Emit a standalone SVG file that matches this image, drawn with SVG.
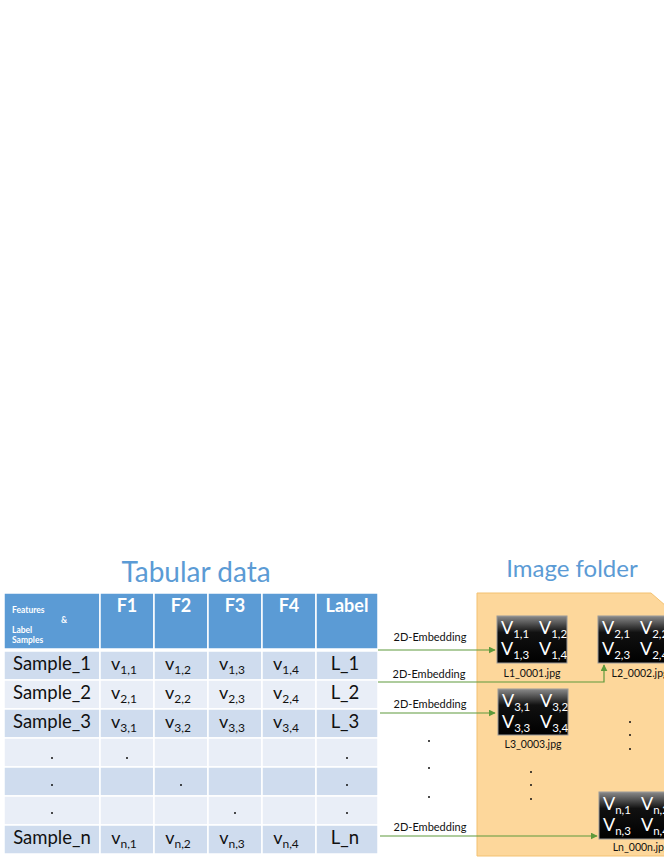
<svg xmlns="http://www.w3.org/2000/svg" width="664" height="860" viewBox="0 0 664 860">
<defs>
<linearGradient id="tile" x1="0" y1="0" x2="0" y2="1">
<stop offset="0" stop-color="#8a8a8a"/>
<stop offset="0.35" stop-color="#111"/>
<stop offset="1" stop-color="#000"/>
</linearGradient>
<marker id="ah" viewBox="0 0 10 10" refX="9" refY="5" markerWidth="7" markerHeight="7" markerUnits="userSpaceOnUse" orient="auto">
<path d="M0,0 L10,5 L0,10 z" fill="#5f9a3c"/>
</marker>
</defs>
<style>
.title{font-family:Lato,"Liberation Sans",sans-serif;fill:#5b9bd5;text-anchor:middle}
.hd{fill:#5b9bd5;stroke:#fff;stroke-width:1.5}
.dk{fill:#cfdcee;stroke:#fff;stroke-width:1.5}
.lt{fill:#e9eef7;stroke:#fff;stroke-width:1.5}
.ht{font-family:Lato,"Liberation Sans",sans-serif;font-weight:bold;fill:#fff;font-size:18px;text-anchor:middle}
.hs{font-family:Lato,"Liberation Sans",sans-serif;font-weight:bold;fill:#fff;font-size:8.5px}
.ct{font-family:Lato,"Liberation Sans",sans-serif;fill:#111;font-size:18.5px;text-anchor:middle}
.cv{font-family:Lato,"Liberation Sans",sans-serif;fill:#111;font-size:18px;text-anchor:middle}
.sub{font-size:12px}
.dot{fill:#111}
.tile{fill:url(#tile);stroke:#9a9a9a;stroke-width:1}
.tv{font-family:Lato,"Liberation Sans",sans-serif;fill:#fff;font-size:18px}
.tsub{font-size:11.5px}
.fn{font-family:Lato,"Liberation Sans",sans-serif;fill:#111;font-size:10.5px;text-anchor:middle}
.emb{font-family:Lato,"Liberation Sans",sans-serif;fill:#111;font-size:11px;text-anchor:middle}
.conn{stroke:#5f9a3c;stroke-width:1.2;fill:none;marker-end:url(#ah)}
</style>

<text class="title" x="196" y="582" font-size="28">Tabular data</text>
<text class="title" x="572" y="577" font-size="24">Image folder</text>

<g id="table">
<rect class="hd" x="4" y="593" width="96" height="56"/>
<rect class="hd" x="100" y="593" width="54" height="56"/>
<rect class="hd" x="154" y="593" width="54" height="56"/>
<rect class="hd" x="208" y="593" width="54" height="56"/>
<rect class="hd" x="262" y="593" width="54" height="56"/>
<rect class="hd" x="316" y="593" width="62" height="56"/>
<text class="hs" x="12" y="613">Features</text>
<text class="hs" x="61" y="623">&amp;</text>
<text class="hs" x="12" y="633">Label</text>
<text class="hs" x="12" y="643">Samples</text>
<text class="ht" x="127" y="612">F1</text>
<text class="ht" x="181" y="612">F2</text>
<text class="ht" x="235" y="612">F3</text>
<text class="ht" x="289" y="612">F4</text>
<text class="ht" x="347" y="612">Label</text>

<g id="row1">
<rect class="dk" x="4" y="651" width="96" height="29"/><rect class="dk" x="100" y="651" width="54" height="29"/><rect class="dk" x="154" y="651" width="54" height="29"/><rect class="dk" x="208" y="651" width="54" height="29"/><rect class="dk" x="262" y="651" width="54" height="29"/><rect class="dk" x="316" y="651" width="62" height="29"/>
<text class="ct" x="52" y="670">Sample_1</text>
<text class="cv" x="124" y="670">v<tspan class="sub" dy="4">1,1</tspan></text>
<text class="cv" x="178" y="670">v<tspan class="sub" dy="4">1,2</tspan></text>
<text class="cv" x="232" y="670">v<tspan class="sub" dy="4">1,3</tspan></text>
<text class="cv" x="286" y="670">v<tspan class="sub" dy="4">1,4</tspan></text>
<text class="ct" x="345" y="670">L_1</text>
</g>
<g id="row2">
<rect class="lt" x="4" y="680" width="96" height="29"/><rect class="lt" x="100" y="680" width="54" height="29"/><rect class="lt" x="154" y="680" width="54" height="29"/><rect class="lt" x="208" y="680" width="54" height="29"/><rect class="lt" x="262" y="680" width="54" height="29"/><rect class="lt" x="316" y="680" width="62" height="29"/>
<text class="ct" x="52" y="699">Sample_2</text>
<text class="cv" x="124" y="699">v<tspan class="sub" dy="4">2,1</tspan></text>
<text class="cv" x="178" y="699">v<tspan class="sub" dy="4">2,2</tspan></text>
<text class="cv" x="232" y="699">v<tspan class="sub" dy="4">2,3</tspan></text>
<text class="cv" x="286" y="699">v<tspan class="sub" dy="4">2,4</tspan></text>
<text class="ct" x="345" y="699">L_2</text>
</g>
<g id="row3">
<rect class="dk" x="4" y="709" width="96" height="29"/><rect class="dk" x="100" y="709" width="54" height="29"/><rect class="dk" x="154" y="709" width="54" height="29"/><rect class="dk" x="208" y="709" width="54" height="29"/><rect class="dk" x="262" y="709" width="54" height="29"/><rect class="dk" x="316" y="709" width="62" height="29"/>
<text class="ct" x="52" y="728">Sample_3</text>
<text class="cv" x="124" y="728">v<tspan class="sub" dy="4">3,1</tspan></text>
<text class="cv" x="178" y="728">v<tspan class="sub" dy="4">3,2</tspan></text>
<text class="cv" x="232" y="728">v<tspan class="sub" dy="4">3,3</tspan></text>
<text class="cv" x="286" y="728">v<tspan class="sub" dy="4">3,4</tspan></text>
<text class="ct" x="345" y="728">L_3</text>
</g>
<g id="row4">
<rect class="lt" x="4" y="738" width="96" height="29"/><rect class="lt" x="100" y="738" width="54" height="29"/><rect class="lt" x="154" y="738" width="54" height="29"/><rect class="lt" x="208" y="738" width="54" height="29"/><rect class="lt" x="262" y="738" width="54" height="29"/><rect class="lt" x="316" y="738" width="62" height="29"/>
<circle class="dot" cx="52" cy="758" r="1"/><circle class="dot" cx="127" cy="758" r="1"/><circle class="dot" cx="347" cy="758" r="1"/>
</g>
<g id="row5">
<rect class="dk" x="4" y="767" width="96" height="29"/><rect class="dk" x="100" y="767" width="54" height="29"/><rect class="dk" x="154" y="767" width="54" height="29"/><rect class="dk" x="208" y="767" width="54" height="29"/><rect class="dk" x="262" y="767" width="54" height="29"/><rect class="dk" x="316" y="767" width="62" height="29"/>
<circle class="dot" cx="52" cy="785" r="1"/><circle class="dot" cx="181" cy="785" r="1"/><circle class="dot" cx="347" cy="785" r="1"/>
</g>
<g id="row6">
<rect class="lt" x="4" y="796" width="96" height="29"/><rect class="lt" x="100" y="796" width="54" height="29"/><rect class="lt" x="154" y="796" width="54" height="29"/><rect class="lt" x="208" y="796" width="54" height="29"/><rect class="lt" x="262" y="796" width="54" height="29"/><rect class="lt" x="316" y="796" width="62" height="29"/>
<circle class="dot" cx="52" cy="813" r="1"/><circle class="dot" cx="235" cy="813" r="1"/><circle class="dot" cx="347" cy="813" r="1"/>
</g>
<g id="rown">
<rect class="dk" x="4" y="825" width="96" height="29"/><rect class="dk" x="100" y="825" width="54" height="29"/><rect class="dk" x="154" y="825" width="54" height="29"/><rect class="dk" x="208" y="825" width="54" height="29"/><rect class="dk" x="262" y="825" width="54" height="29"/><rect class="dk" x="316" y="825" width="62" height="29"/>
<text class="ct" x="52" y="844">Sample_n</text>
<text class="cv" x="124" y="844">v<tspan class="sub" dy="4">n,1</tspan></text>
<text class="cv" x="178" y="844">v<tspan class="sub" dy="4">n,2</tspan></text>
<text class="cv" x="232" y="844">v<tspan class="sub" dy="4">n,3</tspan></text>
<text class="cv" x="286" y="844">v<tspan class="sub" dy="4">n,4</tspan></text>
<text class="ct" x="345" y="844">L_n</text>
</g>
</g>

<g id="folder">
<path d="M477,593 L651,593 L666,606 L666,856 L477,856 Z" fill="#fdd79b" stroke="#f3c171" stroke-width="1"/>
<circle class="dot" cx="531" cy="772" r="1"/><circle class="dot" cx="531" cy="785" r="1"/><circle class="dot" cx="531" cy="799" r="1"/>
<circle class="dot" cx="630" cy="722" r="1"/><circle class="dot" cx="630" cy="735" r="1"/><circle class="dot" cx="630" cy="749" r="1"/>
</g>

<g id="img1">
<rect class="tile" x="497" y="616" width="70" height="47"/>
<text class="tv" x="501" y="634">V<tspan class="tsub" dy="4">1,1</tspan></text>
<text class="tv" x="539" y="634">V<tspan class="tsub" dy="4">1,2</tspan></text>
<text class="tv" x="501" y="655">V<tspan class="tsub" dy="4">1,3</tspan></text>
<text class="tv" x="539" y="655">V<tspan class="tsub" dy="4">1,4</tspan></text>
<text class="fn" x="532" y="677">L1_0001.jpg</text>
</g>
<g id="img2">
<rect class="tile" x="598" y="616" width="70" height="47"/>
<text class="tv" x="602" y="634">V<tspan class="tsub" dy="4">2,1</tspan></text>
<text class="tv" x="640" y="634">V<tspan class="tsub" dy="4">2,2</tspan></text>
<text class="tv" x="602" y="655">V<tspan class="tsub" dy="4">2,3</tspan></text>
<text class="tv" x="640" y="655">V<tspan class="tsub" dy="4">2,4</tspan></text>
<text class="fn" x="640" y="677">L2_0002.jpg</text>
</g>
<g id="img3">
<rect class="tile" x="498" y="689" width="70" height="46"/>
<text class="tv" x="502" y="707">V<tspan class="tsub" dy="4">3,1</tspan></text>
<text class="tv" x="540" y="707">V<tspan class="tsub" dy="4">3,2</tspan></text>
<text class="tv" x="502" y="728">V<tspan class="tsub" dy="4">3,3</tspan></text>
<text class="tv" x="540" y="728">V<tspan class="tsub" dy="4">3,4</tspan></text>
<text class="fn" x="533" y="748">L3_0003.jpg</text>
</g>
<g id="imgn">
<rect class="tile" x="599" y="792" width="70" height="47"/>
<text class="tv" x="603" y="810">V<tspan class="tsub" dy="4">n,1</tspan></text>
<text class="tv" x="641" y="810">V<tspan class="tsub" dy="4">n,2</tspan></text>
<text class="tv" x="603" y="831">V<tspan class="tsub" dy="4">n,3</tspan></text>
<text class="tv" x="641" y="831">V<tspan class="tsub" dy="4">n,4</tspan></text>
<text class="fn" x="641" y="851">Ln_000n.jpg</text>
</g>

<g id="gapdots">
<circle class="dot" cx="429" cy="741" r="1"/><circle class="dot" cx="429" cy="768" r="1"/><circle class="dot" cx="429" cy="797" r="1"/>
</g>

<g id="connectors">
<path class="conn" d="M378,650 L495,650"/>
<path class="conn" d="M378,682 L604,682 L604,665"/>
<path class="conn" d="M380,713 L495,713"/>
<path class="conn" d="M380,836 L597,836"/>
<text class="emb" x="430" y="641">2D-Embedding</text>
<text class="emb" x="429" y="678">2D-Embedding</text>
<text class="emb" x="430" y="708">2D-Embedding</text>
<text class="emb" x="430" y="831">2D-Embedding</text>
</g>
</svg>
